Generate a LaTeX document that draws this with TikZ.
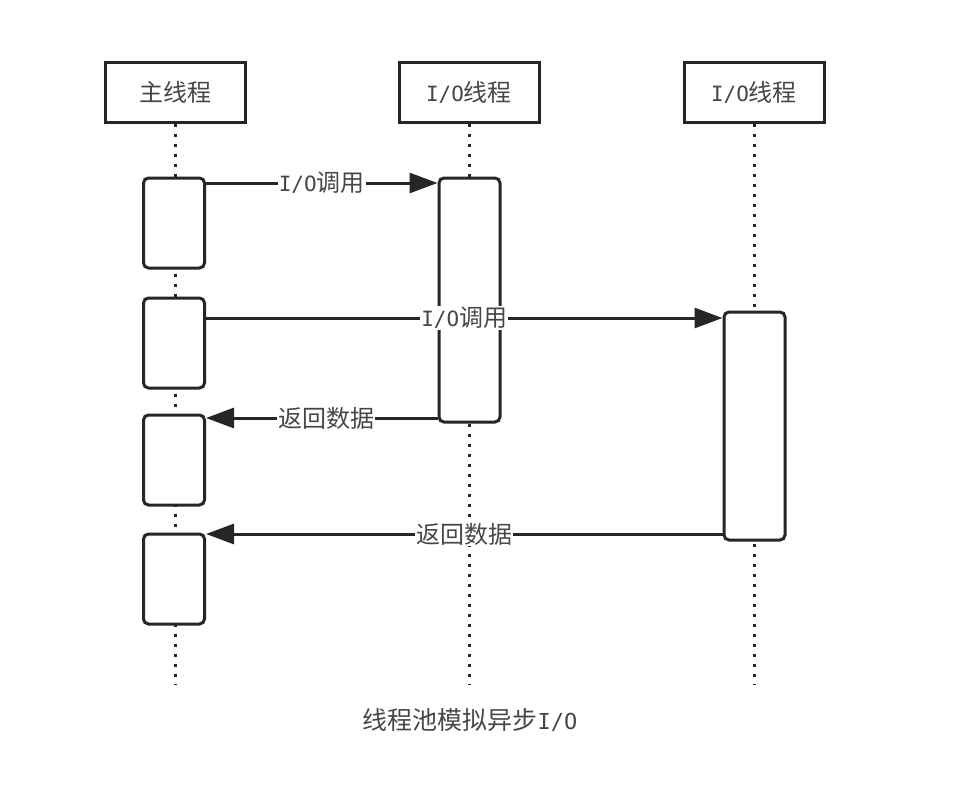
\documentclass[tikz,border=0pt]{standalone}
\usepackage{fontspec}
\setmainfont{Noto Sans CJK SC}
\newfontfamily\monofam{DejaVu Sans Mono}
\newcommand{\io}{{\monofam\fontsize{21}{22}\selectfont I/O}}
\usetikzlibrary{arrows.meta}
\begin{document}
\begin{tikzpicture}[x=1pt,y=-1pt,
  head/.style={draw=black!85,line width=3pt,fill=white,minimum width=140pt,minimum height=60pt,inner sep=0pt,font=\fontsize{24}{26}\selectfont,text=black!72},
  act/.style={draw=black!85,line width=3pt,fill=white,rounded corners=5pt,minimum width=61pt,inner sep=0pt},
  life/.style={line width=3pt,black!85,dash pattern=on 3pt off 7pt},
  msg/.style={line width=3pt,black!85,-{Triangle[length=28pt,width=20pt]}},
  lbl/.style={fill=white,inner sep=1pt,font=\fontsize{24}{26}\selectfont,text=black!72}]
\useasboundingbox (0,0) rectangle (956,796);
% headers
\node[head] (h1) at (175,92) {主线程};
\node[head] (h2) at (469,92) {\io 线程};
\node[head] (h3) at (754,92) {\io 线程};
% lifeline ends
\coordinate (e1) at (175,684);
\coordinate (e2) at (469,684);
\coordinate (e3) at (754,684);
\draw[life] (h1.south) -- (e1);
\draw[life] (h2.south) -- (e2);
\draw[life] (h3.south) -- (e3);
% activations
\node[act,minimum height=90pt] (m1) at (174,223) {};
\node[act,minimum height=90pt] (m2) at (174,343) {};
\node[act,minimum height=90pt] (m3) at (174,460) {};
\node[act,minimum height=90pt] (m4) at (174,579) {};
\node[act,minimum height=244pt] (a1) at (469.5,300) {};
\node[act,minimum height=228pt] (a2) at (754.5,426) {};
% messages
\draw[msg] (m1.east |- 0,183) -- node[lbl,pos=0.5] {\io 调用} (a1.west |- 0,183);
\draw[msg] (m2.east |- 0,318) -- node[lbl,pos=0.5] {\io 调用} (a2.west |- 0,318);
\draw[msg] (a1.west |- 0,418) -- node[lbl,pos=0.48] {返回数据} (m3.east |- 0,418);
\draw[msg] (a2.west |- 0,534) -- node[lbl,pos=0.5] {返回数据} (m4.east |- 0,534);
% caption
\node[font=\fontsize{25}{27}\selectfont,text=black!72] (cap) at (470,720) {线程池模拟异步{\monofam\fontsize{22}{24}\selectfont I/O}};
\end{tikzpicture}
\end{document}
